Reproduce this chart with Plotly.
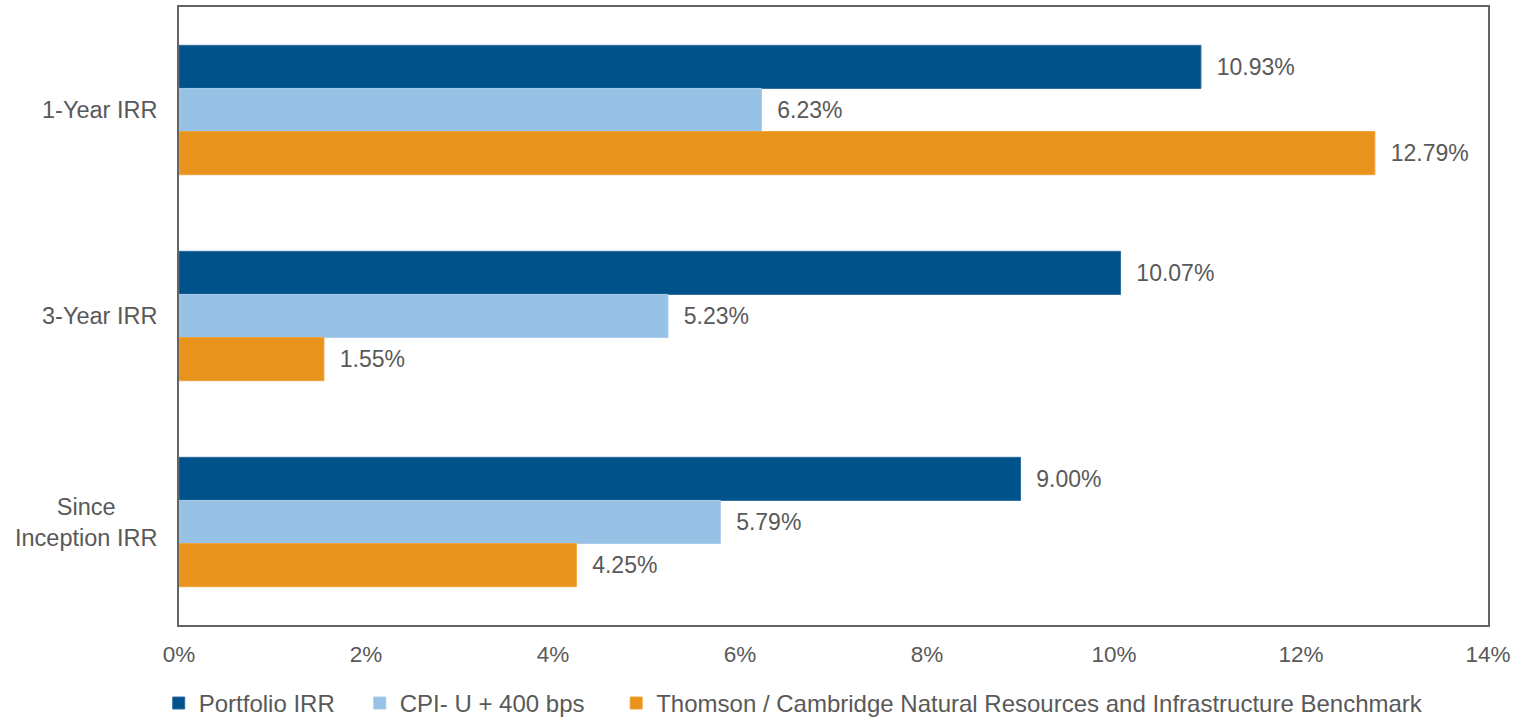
import plotly.graph_objects as go

# Return periods shown on the vertical axis
categories = ["1-Year IRR", "3-Year IRR", "Since Inception IRR"]
category_labels = ["1-Year IRR", "3-Year IRR", "Since<br>Inception IRR"]

# IRR values in percent for each series
portfolio_irr = [10.93, 10.07, 9.00]
cpi_u_400 = [6.23, 5.23, 5.79]
thomson_cambridge = [12.79, 1.55, 4.25]

series_names = [
    "Portfolio IRR",
    "CPI- U + 400 bps",
    "Thomson / Cambridge Natural Resources and Infrastructure Benchmark",
]
series_values = [portfolio_irr, cpi_u_400, thomson_cambridge]
series_colors = ["#00538A", "#98C1E6", "#E8941C"]
edge_colors = ["#2F6F9E", "#A9CBEA", "#EFA43A"]

x_ticks = [0, 2, 4, 6, 8, 10, 12, 14]

FONT = "Liberation Sans, Arial, sans-serif"
TEXT_GREY = "#595959"
NBSP = "\u00a0"
# trailing non-breaking spaces that widen each horizontal legend entry
legend_padding = [3, 4, 0]

fig = go.Figure()
for name, vals, col, edge, pad in zip(
    series_names, series_values, series_colors, edge_colors, legend_padding
):
    fig.add_trace(
        go.Bar(
            y=categories,
            x=vals,
            name=name + NBSP * pad,
            orientation="h",
            marker=dict(color=col, line=dict(color=edge, width=1)),
            text=[f"  {v:.2f}%" for v in vals],
            textposition="outside",
            textfont=dict(family=FONT, size=23, color=TEXT_GREY),
            cliponaxis=False,
            hoverinfo="skip",
        )
    )

# Category labels, centred line by line to the left of the plot frame
for cat, label in zip(categories, category_labels):
    fig.add_annotation(
        x=0,
        xref="paper",
        y=cat,
        yref="y",
        text=label,
        showarrow=False,
        xanchor="right",
        yanchor="middle",
        align="center",
        xshift=-20,
        font=dict(family=FONT, size=23.5, color=TEXT_GREY),
    )

fig.update_layout(
    width=1522,
    height=717,
    barmode="group",
    bargap=0.372,
    bargroupgap=0,
    paper_bgcolor="white",
    plot_bgcolor="white",
    margin=dict(l=179, r=34, t=7, b=92, autoexpand=False),
    font=dict(family=FONT, size=23, color=TEXT_GREY),
    showlegend=True,
    legend=dict(
        orientation="h",
        x=-0.0155,
        xanchor="left",
        y=-0.0905,
        yanchor="top",
        font=dict(family=FONT, size=24, color=TEXT_GREY),
        itemwidth=30,
        tracegroupgap=0,
    ),
)

fig.update_xaxes(
    range=[0, 14],
    tickvals=x_ticks,
    ticktext=[f"{t}%" for t in x_ticks],
    showgrid=False,
    zeroline=False,
    showline=True,
    linecolor="#646464",
    linewidth=2,
    mirror=True,
    ticks="",
    ticklabelstandoff=8,
    tickfont=dict(family=FONT, size=22.5, color=TEXT_GREY),
)
fig.update_yaxes(
    autorange="reversed",
    showgrid=False,
    zeroline=False,
    showline=True,
    linecolor="#646464",
    linewidth=2,
    mirror=True,
    ticks="",
    showticklabels=False,
)

fig.write_html("out.html")
